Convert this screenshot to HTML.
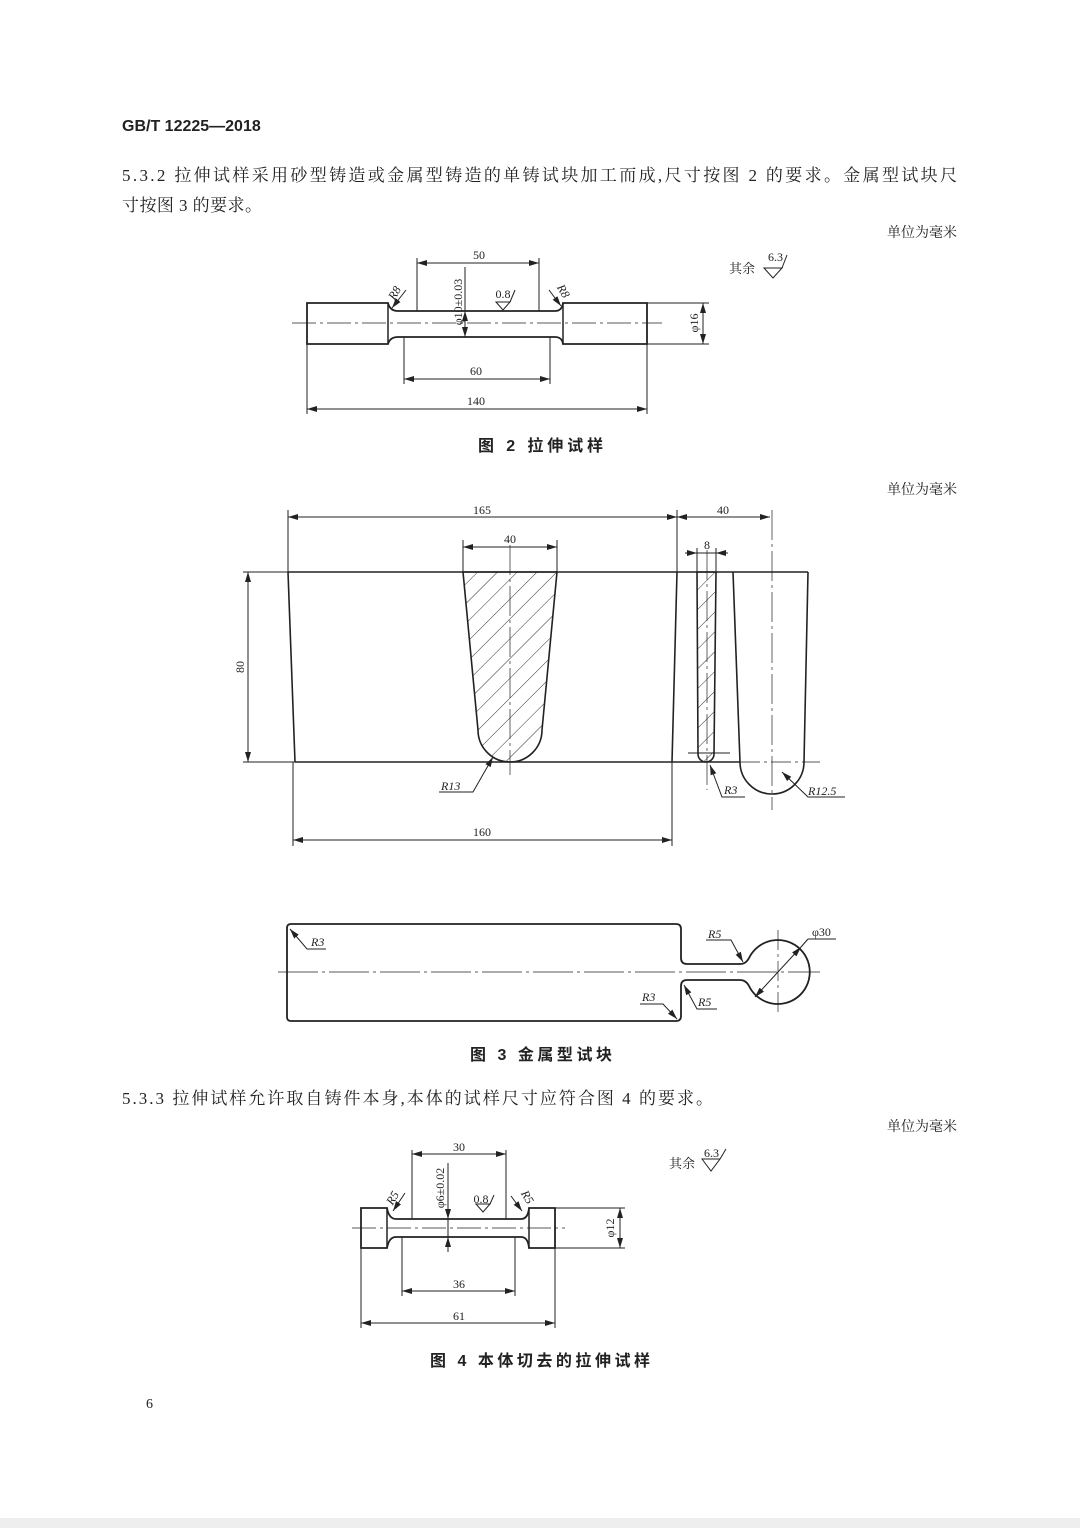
<!DOCTYPE html>
<html><head><meta charset="utf-8"><style>
html,body{margin:0;padding:0;background:#fff}
svg{display:block}
.t{font-family:"Liberation Serif","Noto Serif CJK SC",serif;fill:#222}
.b{font-family:"Liberation Sans","Noto Sans CJK SC",sans-serif;font-weight:bold;fill:#222}
.d{font-family:"Liberation Serif","Noto Serif CJK SC",serif;font-size:12px;fill:#222}
</style></head><body>
<svg width="1080" height="1528" viewBox="0 0 1080 1528" xmlns="http://www.w3.org/2000/svg">
<defs>
<marker id="a" viewBox="0 0 10 6" refX="10" refY="3" markerWidth="10" markerHeight="6" orient="auto-start-reverse" markerUnits="userSpaceOnUse"><path d="M0,0 L10,3 L0,6Z" fill="#222"/></marker>
<pattern id="h" width="14" height="14" patternUnits="userSpaceOnUse" patternTransform="rotate(45)"><line x1="0" y1="0" x2="0" y2="14" stroke="#333" stroke-width="1"/></pattern>
</defs>
<rect width="1080" height="1528" fill="#fff"/>
<rect x="0" y="1518" width="1080" height="10" fill="#eee"/>

<text x="122" y="131" class="b" font-size="16">GB/T  12225—2018</text>
<text x="122" y="181" class="t" font-size="17" textLength="835" lengthAdjust="spacing">5.3.2   拉伸试样采用砂型铸造或金属型铸造的单铸试块加工而成,尺寸按图 2 的要求。金属型试块尺</text>
<text x="122" y="211" class="t" font-size="17" textLength="140" lengthAdjust="spacing">寸按图 3 的要求。</text>
<text x="957" y="237" class="t" font-size="14" text-anchor="end">单位为毫米</text>

<g fill="none" stroke="#222" stroke-width="1">
<!-- Fig 2 -->
<path d="M307,303 H388 Q390,311 398,311 H555 Q562,311 563,303 H647 V344 H563 Q562,337 555,337 H398 Q390,337 388,344 H307 Z" stroke-width="1.8"/>
<line x1="388" y1="303" x2="388" y2="344" stroke-width="1.5"/>
<line x1="563" y1="303" x2="563" y2="344" stroke-width="1.5"/>
<line x1="292" y1="323" x2="662" y2="323" stroke-dasharray="24,4,3,4" stroke-width="0.8"/>
<line x1="417" y1="258" x2="417" y2="311"/><line x1="539" y1="258" x2="539" y2="311"/>
<line x1="417" y1="263" x2="539" y2="263" marker-start="url(#a)" marker-end="url(#a)"/>
<line x1="404" y1="337" x2="404" y2="384"/><line x1="550" y1="337" x2="550" y2="384"/>
<line x1="404" y1="379" x2="550" y2="379" marker-start="url(#a)" marker-end="url(#a)"/>
<line x1="307" y1="344" x2="307" y2="414"/><line x1="647" y1="344" x2="647" y2="414"/>
<line x1="307" y1="409" x2="647" y2="409" marker-start="url(#a)" marker-end="url(#a)"/>
<line x1="647" y1="303" x2="709" y2="303"/><line x1="647" y1="344" x2="709" y2="344"/>
<line x1="703" y1="303" x2="703" y2="344" marker-start="url(#a)" marker-end="url(#a)"/>
<line x1="465" y1="267" x2="465" y2="337"/>
<line x1="465" y1="315" x2="465" y2="311" marker-end="url(#a)"/>
<line x1="465" y1="330" x2="465" y2="337" marker-end="url(#a)"/>
<line x1="406" y1="290" x2="392" y2="308" marker-end="url(#a)"/>
<line x1="549" y1="290" x2="561" y2="306" marker-end="url(#a)"/>
<path d="M496,302 L503,310 L510,302 Z M510,302 L515,290"/>
<path d="M764,268 L773,278 L782,268 Z M782,268 L787,255"/>
</g>
<text class="d" x="479" y="259" text-anchor="middle">50</text>
<text class="d" x="476" y="375" text-anchor="middle">60</text>
<text class="d" x="476" y="405" text-anchor="middle">140</text>
<text class="d" transform="translate(698,323) rotate(-90)" text-anchor="middle">φ16</text>
<text class="d" transform="translate(462,302) rotate(-90)" text-anchor="middle">φ10±0.03</text>
<text class="d" transform="translate(398,295) rotate(-60)" text-anchor="middle" font-style="italic">R8</text>
<text class="d" transform="translate(560,293) rotate(60)" text-anchor="middle" font-style="italic">R8</text>
<text class="d" x="503" y="298" text-anchor="middle" font-size="10">0.8</text>
<text class="d" x="768" y="261" font-size="11">6.3</text>
<text class="t" x="729" y="273" font-size="13">其余</text>
<text class="b" x="478" y="451" font-size="16" textLength="125" lengthAdjust="spacing">图 2   拉伸试样</text>

<text x="957" y="494" class="t" font-size="14" text-anchor="end">单位为毫米</text>

<!-- Fig 3 top -->
<g fill="none" stroke="#222" stroke-width="1">
<path d="M463,572 L478,730 A32,32 0 0 0 542,730 L557,572 Z" fill="url(#h)" stroke-width="1.6"/>
<path d="M697,572 L698,754 A8,8 0 0 0 714,754 L716,572 Z" fill="url(#h)" stroke-width="1.6"/>
<path d="M733,572 L740,762 A32,32 0 0 0 804,762 L808,572" stroke-width="1.6"/>
<line x1="288" y1="572" x2="808" y2="572" stroke-width="1.6"/>
<line x1="288" y1="572" x2="295" y2="762" stroke-width="1.6"/>
<line x1="295" y1="762" x2="740" y2="762" stroke-width="1.6"/>
<line x1="677" y1="572" x2="672" y2="762" stroke-width="1.6"/>
<line x1="510" y1="545" x2="510" y2="775" stroke-dasharray="30,4,3,4" stroke-width="0.7"/>
<line x1="707" y1="550" x2="707" y2="790" stroke-dasharray="30,4,3,4" stroke-width="0.7"/>
<line x1="772" y1="510" x2="772" y2="810" stroke-dasharray="30,4,3,4" stroke-width="0.7"/>
<line x1="740" y1="762" x2="820" y2="762" stroke-dasharray="20,4,3,4" stroke-width="0.7"/>
<line x1="288" y1="510" x2="288" y2="572"/><line x1="677" y1="510" x2="677" y2="572"/>
<line x1="288" y1="517" x2="677" y2="517" marker-start="url(#a)" marker-end="url(#a)"/>
<line x1="677" y1="517" x2="770" y2="517" marker-start="url(#a)" marker-end="url(#a)"/>
<line x1="463" y1="540" x2="463" y2="572"/><line x1="557" y1="540" x2="557" y2="572"/>
<line x1="463" y1="547" x2="557" y2="547" marker-start="url(#a)" marker-end="url(#a)"/>
<line x1="697" y1="548" x2="697" y2="572"/><line x1="716" y1="548" x2="716" y2="572"/>
<line x1="685" y1="553" x2="697" y2="553" marker-end="url(#a)"/>
<line x1="728" y1="553" x2="716" y2="553" marker-end="url(#a)"/>
<line x1="697" y1="553" x2="716" y2="553"/>
<line x1="243" y1="572" x2="288" y2="572"/><line x1="243" y1="762" x2="295" y2="762"/>
<line x1="248" y1="572" x2="248" y2="762" marker-start="url(#a)" marker-end="url(#a)"/>
<line x1="293" y1="762" x2="293" y2="846"/><line x1="672" y1="762" x2="672" y2="846"/>
<line x1="293" y1="840" x2="672" y2="840" marker-start="url(#a)" marker-end="url(#a)"/>
<line x1="688" y1="753" x2="730" y2="753"/>
<path d="M439,792 H473 L493,757" marker-end="url(#a)"/>
<path d="M745,797 H722 L710,765" marker-end="url(#a)"/>
<path d="M845,797 H808 L782,772" marker-end="url(#a)"/>
</g>
<text class="d" x="482" y="514" text-anchor="middle">165</text>
<text class="d" x="723" y="514" text-anchor="middle">40</text>
<text class="d" x="510" y="543" text-anchor="middle">40</text>
<text class="d" x="707" y="549" text-anchor="middle">8</text>
<text class="d" transform="translate(244,667) rotate(-90)" text-anchor="middle">80</text>
<text class="d" x="482" y="836" text-anchor="middle">160</text>
<text class="d" x="441" y="790" font-style="italic">R13</text>
<text class="d" x="724" y="794" font-style="italic">R3</text>
<text class="d" x="808" y="795" font-style="italic">R12.5</text>

<!-- Fig 3 bottom -->
<g fill="none" stroke="#222" stroke-width="1">
<path d="M291,924 H676 Q681,924 681,929 V958 Q681,964 687,964 H740 Q746,964 749,958 A32,32 0 1 1 749,986 Q746,980 740,980 H687 Q681,980 681,986 V1016 Q681,1021 676,1021 H291 Q287,1021 287,1017 V928 Q287,924 291,924 Z" stroke-width="1.8"/>
<line x1="278" y1="972" x2="820" y2="972" stroke-dasharray="40,4,3,4" stroke-width="0.7"/>
<line x1="778" y1="930" x2="778" y2="1014" stroke-dasharray="20,4,3,4" stroke-width="0.7"/>
<path d="M326,949 H307 L290,929" marker-end="url(#a)"/>
<path d="M706,940 H731 L743,962" marker-end="url(#a)"/>
<path d="M640,1004 H663 L677,1019" marker-end="url(#a)"/>
<path d="M717,1009 H697 L684,985" marker-end="url(#a)"/>
<line x1="755" y1="997" x2="801" y2="947" marker-start="url(#a)" marker-end="url(#a)"/>
<line x1="801" y1="947" x2="808" y2="939"/><line x1="808" y1="939" x2="836" y2="939"/>
</g>
<text class="d" x="311" y="946" font-style="italic">R3</text>
<text class="d" x="708" y="938" font-style="italic">R5</text>
<text class="d" x="642" y="1001" font-style="italic">R3</text>
<text class="d" x="698" y="1006" font-style="italic">R5</text>
<text class="d" x="812" y="936">φ30</text>
<text class="b" x="470" y="1060" font-size="16" textLength="142" lengthAdjust="spacing">图 3   金属型试块</text>

<text x="122" y="1104" class="t" font-size="17" textLength="591" lengthAdjust="spacing">5.3.3   拉伸试样允许取自铸件本身,本体的试样尺寸应符合图 4 的要求。</text>
<text x="957" y="1131" class="t" font-size="14" text-anchor="end">单位为毫米</text>

<!-- Fig 4 -->
<g fill="none" stroke="#222" stroke-width="1">
<path d="M361,1208 H387 Q389,1219 396,1219 H521 Q528,1219 529,1208 H555 V1248 H529 Q528,1237 521,1237 H396 Q389,1237 387,1248 H361 Z" stroke-width="1.8"/>
<line x1="387" y1="1208" x2="387" y2="1248" stroke-width="1.5"/>
<line x1="529" y1="1208" x2="529" y2="1248" stroke-width="1.5"/>
<line x1="352" y1="1228" x2="565" y2="1228" stroke-dasharray="24,4,3,4" stroke-width="0.7"/>
<line x1="412" y1="1150" x2="412" y2="1219"/><line x1="506" y1="1150" x2="506" y2="1219"/>
<line x1="412" y1="1154" x2="506" y2="1154" marker-start="url(#a)" marker-end="url(#a)"/>
<line x1="402" y1="1237" x2="402" y2="1296"/><line x1="515" y1="1237" x2="515" y2="1296"/>
<line x1="402" y1="1291" x2="515" y2="1291" marker-start="url(#a)" marker-end="url(#a)"/>
<line x1="361" y1="1248" x2="361" y2="1328"/><line x1="555" y1="1248" x2="555" y2="1328"/>
<line x1="361" y1="1323" x2="555" y2="1323" marker-start="url(#a)" marker-end="url(#a)"/>
<line x1="555" y1="1208" x2="625" y2="1208"/><line x1="555" y1="1248" x2="625" y2="1248"/>
<line x1="620" y1="1208" x2="620" y2="1248" marker-start="url(#a)" marker-end="url(#a)"/>
<line x1="448" y1="1163" x2="448" y2="1252"/>
<line x1="448" y1="1210" x2="448" y2="1219" marker-end="url(#a)"/>
<line x1="448" y1="1246" x2="448" y2="1237" marker-end="url(#a)"/>
<line x1="405" y1="1193" x2="393" y2="1211" marker-end="url(#a)"/>
<line x1="511" y1="1196" x2="522" y2="1211" marker-end="url(#a)"/>
<path d="M476,1204 L483,1212 L490,1204 Z M490,1204 L494,1195"/>
<path d="M702,1159 L711,1171 L720,1159 Z M720,1159 L726,1149"/>
</g>
<text class="d" x="459" y="1151" text-anchor="middle">30</text>
<text class="d" x="459" y="1288" text-anchor="middle">36</text>
<text class="d" x="459" y="1320" text-anchor="middle">61</text>
<text class="d" transform="translate(614,1228) rotate(-90)" text-anchor="middle">φ12</text>
<text class="d" transform="translate(444,1188) rotate(-90)" text-anchor="middle">φ6±0.02</text>
<text class="d" transform="translate(396,1200) rotate(-60)" text-anchor="middle" font-style="italic">R5</text>
<text class="d" transform="translate(524,1199) rotate(60)" text-anchor="middle" font-style="italic">R5</text>
<text class="d" x="481" y="1203" text-anchor="middle" font-size="10">0.8</text>
<text class="d" x="704" y="1157" font-size="11">6.3</text>
<text class="t" x="669" y="1168" font-size="13">其余</text>
<text class="b" x="430" y="1366" font-size="16" textLength="220" lengthAdjust="spacing">图 4   本体切去的拉伸试样</text>

<text class="t" x="146" y="1408" font-size="14">6</text>
</svg>
</body></html>
